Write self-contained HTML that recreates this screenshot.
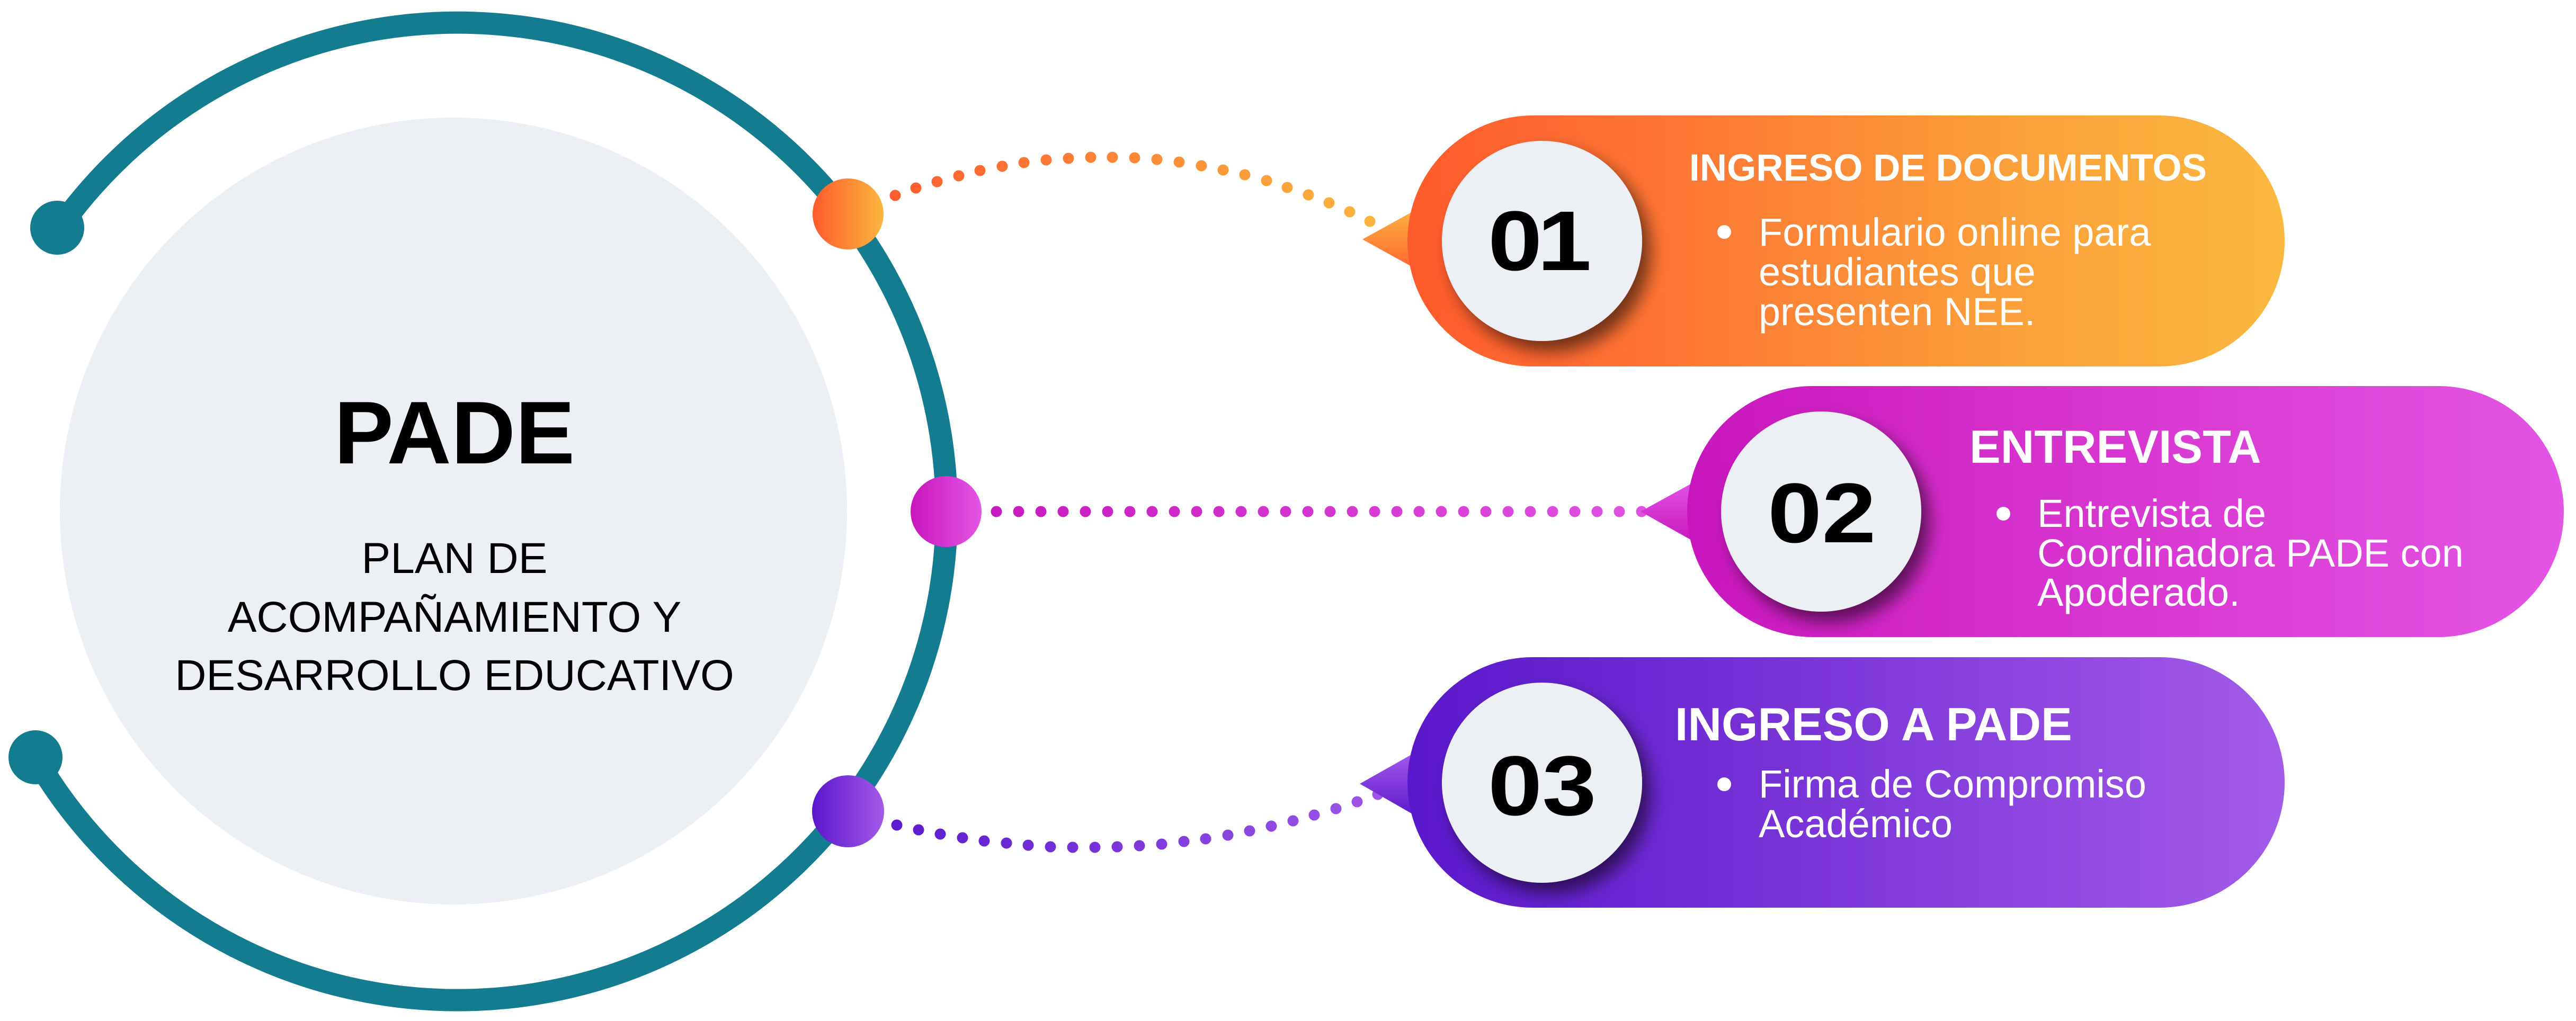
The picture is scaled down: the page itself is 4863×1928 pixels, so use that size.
<!DOCTYPE html>
<html>
<head>
<meta charset="utf-8">
<style>
  html,body{margin:0;padding:0;background:#ffffff;}
  svg{display:block;}
  text{font-family:"Liberation Sans", Arial, sans-serif;}
</style>
</head>
<body>
<svg xmlns="http://www.w3.org/2000/svg" width="4863" height="1928" viewBox="0 0 4863 1928">
  <defs>
    <linearGradient id="gNodeO" x1="0" y1="0" x2="1" y2="0">
      <stop offset="0" stop-color="#FF5A2C"/><stop offset="1" stop-color="#FBB63F"/>
    </linearGradient>
    <linearGradient id="gNodeM" x1="0" y1="0" x2="1" y2="0">
      <stop offset="0" stop-color="#C816BD"/><stop offset="1" stop-color="#E356E4"/>
    </linearGradient>
    <linearGradient id="gNodeP" x1="0" y1="0" x2="1" y2="0">
      <stop offset="0" stop-color="#5A17CC"/><stop offset="1" stop-color="#A35AE8"/>
    </linearGradient>

    <linearGradient id="gDotO" gradientUnits="userSpaceOnUse" x1="1690" y1="0" x2="2586" y2="0">
      <stop offset="0" stop-color="#FF5E2E"/><stop offset="1" stop-color="#FBB33F"/>
    </linearGradient>
    <linearGradient id="gDotM" gradientUnits="userSpaceOnUse" x1="1881" y1="0" x2="3099" y2="0">
      <stop offset="0" stop-color="#C81AC0"/><stop offset="1" stop-color="#E052E1"/>
    </linearGradient>
    <linearGradient id="gDotP" gradientUnits="userSpaceOnUse" x1="1693" y1="0" x2="2601" y2="0">
      <stop offset="0" stop-color="#5E1BCF"/><stop offset="1" stop-color="#9E55E6"/>
    </linearGradient>

    <linearGradient id="gBox1" x1="0" y1="0" x2="1" y2="0">
      <stop offset="0" stop-color="#FF5A2B"/>
      <stop offset="0.12" stop-color="#FE6630"/>
      <stop offset="0.32" stop-color="#FD7834"/>
      <stop offset="0.7" stop-color="#FBA13B"/>
      <stop offset="1" stop-color="#FBB83F"/>
    </linearGradient>
    <linearGradient id="gBox2" x1="0" y1="0" x2="1" y2="0">
      <stop offset="0" stop-color="#C816BD"/>
      <stop offset="0.35" stop-color="#D42ECB"/>
      <stop offset="1" stop-color="#E355E4"/>
    </linearGradient>
    <linearGradient id="gBox3" x1="0" y1="0" x2="1" y2="0">
      <stop offset="0" stop-color="#5A18CB"/>
      <stop offset="0.3" stop-color="#6E2AD3"/>
      <stop offset="1" stop-color="#A35BE8"/>
    </linearGradient>

    <linearGradient id="gTri1" x1="0" y1="0" x2="0" y2="1">
      <stop offset="0" stop-color="#FBB040"/><stop offset="1" stop-color="#FF682F"/>
    </linearGradient>
    <linearGradient id="gTri2" x1="0" y1="0" x2="0" y2="1">
      <stop offset="0" stop-color="#E152E3"/><stop offset="1" stop-color="#C818BD"/>
    </linearGradient>
    <linearGradient id="gTri3" x1="0" y1="0" x2="0" y2="1">
      <stop offset="0" stop-color="#A15AEA"/><stop offset="1" stop-color="#5E1ACC"/>
    </linearGradient>

    <filter id="sh" x="-30%" y="-30%" width="170%" height="170%">
      <feDropShadow dx="16" dy="20" stdDeviation="16" flood-color="#000" flood-opacity="0.55"/>
    </filter>
  </defs>

  <!-- Big light circle -->
  <circle cx="856" cy="965" r="743" fill="#ECEFF4"/>

  <!-- Teal ring -->
  <path d="M111 432 A923 923 0 1 1 67 1431" fill="none" stroke="#137C90" stroke-width="42" stroke-linecap="round"/>
  <circle cx="108" cy="430" r="51" fill="#137C90"/>
  <circle cx="67" cy="1430" r="51" fill="#137C90"/>

  <!-- Center text -->
  <text x="858" y="875" text-anchor="middle" font-size="168" font-weight="bold" fill="#000">PADE</text>
  <text x="858" y="1082" text-anchor="middle" font-size="82" fill="#000">PLAN DE</text>
  <text x="858" y="1193" text-anchor="middle" font-size="82" fill="#000">ACOMPAÑAMIENTO Y</text>
  <text x="858" y="1303" text-anchor="middle" font-size="82" fill="#000">DESARROLLO EDUCATIVO</text>

  <!-- Dotted connectors -->
  <g fill="url(#gDotO)">
    <circle cx="1690" cy="369" r="10.5"/><circle cx="1729" cy="355" r="10.5"/><circle cx="1769" cy="343" r="10.5"/>
    <circle cx="1810" cy="332" r="10.5"/><circle cx="1850" cy="322" r="10.5"/><circle cx="1892" cy="314" r="10.5"/>
    <circle cx="1933" cy="307" r="10.5"/><circle cx="1975" cy="302" r="10.5"/><circle cx="2017" cy="299" r="10.5"/>
    <circle cx="2059" cy="297" r="10.5"/><circle cx="2100" cy="297" r="10.5"/><circle cx="2142" cy="298" r="10.5"/>
    <circle cx="2184" cy="301" r="10.5"/><circle cx="2226" cy="306" r="10.5"/><circle cx="2268" cy="313" r="10.5"/>
    <circle cx="2309" cy="321" r="10.5"/><circle cx="2350" cy="330" r="10.5"/><circle cx="2391" cy="341" r="10.5"/>
    <circle cx="2430" cy="354" r="10.5"/><circle cx="2470" cy="368" r="10.5"/><circle cx="2509" cy="383" r="10.5"/>
    <circle cx="2548" cy="400" r="10.5"/><circle cx="2586" cy="418" r="10.5"/>
  </g>
  <g fill="url(#gDotM)">
    <circle cx="1881" cy="966" r="10.5"/><circle cx="1923" cy="966" r="10.5"/><circle cx="1965" cy="966" r="10.5"/>
    <circle cx="2007" cy="966" r="10.5"/><circle cx="2049" cy="966" r="10.5"/><circle cx="2091" cy="966" r="10.5"/>
    <circle cx="2133" cy="966" r="10.5"/><circle cx="2175" cy="966" r="10.5"/><circle cx="2217" cy="966" r="10.5"/>
    <circle cx="2259" cy="966" r="10.5"/><circle cx="2301" cy="966" r="10.5"/><circle cx="2343" cy="966" r="10.5"/>
    <circle cx="2385" cy="966" r="10.5"/><circle cx="2427" cy="966" r="10.5"/><circle cx="2469" cy="966" r="10.5"/>
    <circle cx="2511" cy="966" r="10.5"/><circle cx="2553" cy="966" r="10.5"/><circle cx="2595" cy="966" r="10.5"/>
    <circle cx="2637" cy="966" r="10.5"/><circle cx="2679" cy="966" r="10.5"/><circle cx="2721" cy="966" r="10.5"/>
    <circle cx="2763" cy="966" r="10.5"/><circle cx="2805" cy="966" r="10.5"/><circle cx="2847" cy="966" r="10.5"/>
    <circle cx="2889" cy="966" r="10.5"/><circle cx="2931" cy="966" r="10.5"/><circle cx="2973" cy="966" r="10.5"/>
    <circle cx="3015" cy="966" r="10.5"/><circle cx="3057" cy="966" r="10.5"/><circle cx="3099" cy="966" r="10.5"/>
  </g>
  <g fill="url(#gDotP)">
    <circle cx="1693" cy="1558" r="10.5"/><circle cx="1734" cy="1567" r="10.5"/><circle cx="1775" cy="1575" r="10.5"/>
    <circle cx="1817" cy="1582" r="10.5"/><circle cx="1858" cy="1588" r="10.5"/><circle cx="1900" cy="1592" r="10.5"/>
    <circle cx="1941" cy="1596" r="10.5"/><circle cx="1983" cy="1599" r="10.5"/><circle cx="2025" cy="1600" r="10.5"/>
    <circle cx="2067" cy="1600" r="10.5"/><circle cx="2109" cy="1599" r="10.5"/><circle cx="2151" cy="1597" r="10.5"/>
    <circle cx="2193" cy="1594" r="10.5"/><circle cx="2235" cy="1589" r="10.5"/><circle cx="2276" cy="1584" r="10.5"/>
    <circle cx="2318" cy="1577" r="10.5"/><circle cx="2359" cy="1569" r="10.5"/><circle cx="2400" cy="1560" r="10.5"/>
    <circle cx="2441" cy="1550" r="10.5"/><circle cx="2481" cy="1539" r="10.5"/><circle cx="2522" cy="1527" r="10.5"/>
    <circle cx="2562" cy="1514" r="10.5"/><circle cx="2601" cy="1500" r="10.5"/>
  </g>

  <!-- Nodes on ring -->
  <circle cx="1601" cy="404" r="67" fill="url(#gNodeO)"/>
  <circle cx="1786" cy="966" r="67" fill="url(#gNodeM)"/>
  <circle cx="1601" cy="1532" r="68" fill="url(#gNodeP)"/>

  <!-- Pointer triangles -->
  <polygon points="2572,452 2668,399 2668,505" fill="url(#gTri1)"/>
  <polygon points="3097,966 3195,912 3195,1021" fill="url(#gTri2)"/>
  <polygon points="2567,1480 2668,1423 2668,1538" fill="url(#gTri3)"/>

  <!-- Boxes -->
  <rect x="2657" y="218" width="1656" height="474" rx="237" ry="237" fill="url(#gBox1)"/>
  <rect x="3185" y="729" width="1655" height="474" rx="237" ry="237" fill="url(#gBox2)"/>
  <rect x="2657" y="1241" width="1656" height="473" rx="236.5" ry="236.5" fill="url(#gBox3)"/>

  <!-- Number circles -->
  <circle cx="2911" cy="455" r="189" fill="#ECEFF4" filter="url(#sh)"/>
  <circle cx="3438" cy="966" r="189" fill="#ECEFF4" filter="url(#sh)"/>
  <circle cx="2911" cy="1478" r="189" fill="#ECEFF4" filter="url(#sh)"/>

  <text transform="translate(2809,510) scale(1.15,1)" x="0" y="0" font-size="160" font-weight="bold" fill="#000" letter-spacing="-8">01</text>
  <text transform="translate(3337,1024) scale(1.15,1)" x="0" y="0" font-size="160" font-weight="bold" fill="#000">02</text>
  <text transform="translate(2809,1539) scale(1.15,1)" x="0" y="0" font-size="160" font-weight="bold" fill="#000">03</text>

  <!-- Box 1 text -->
  <text x="3189" y="341" font-size="71" font-weight="bold" fill="#fff">INGRESO DE DOCUMENTOS</text>
  <circle cx="3255" cy="438" r="13" fill="#fff"/>
  <text font-size="74" fill="#fff">
    <tspan x="3320" y="464">Formulario online para</tspan>
    <tspan x="3320" y="539">estudiantes que</tspan>
    <tspan x="3320" y="614">presenten NEE.</tspan>
  </text>

  <!-- Box 2 text -->
  <text x="3718" y="874" font-size="88" font-weight="bold" fill="#fff">ENTREVISTA</text>
  <circle cx="3782" cy="970" r="13" fill="#fff"/>
  <text font-size="74" fill="#fff">
    <tspan x="3846" y="995">Entrevista de</tspan>
    <tspan x="3846" y="1070">Coordinadora PADE con</tspan>
    <tspan x="3846" y="1144">Apoderado.</tspan>
  </text>

  <!-- Box 3 text -->
  <text x="3162" y="1398" font-size="88" font-weight="bold" fill="#fff">INGRESO A PADE</text>
  <circle cx="3255" cy="1481" r="13" fill="#fff"/>
  <text font-size="74" fill="#fff">
    <tspan x="3320" y="1506">Firma de Compromiso</tspan>
    <tspan x="3320" y="1581">Académico</tspan>
  </text>
</svg>
</body>
</html>
